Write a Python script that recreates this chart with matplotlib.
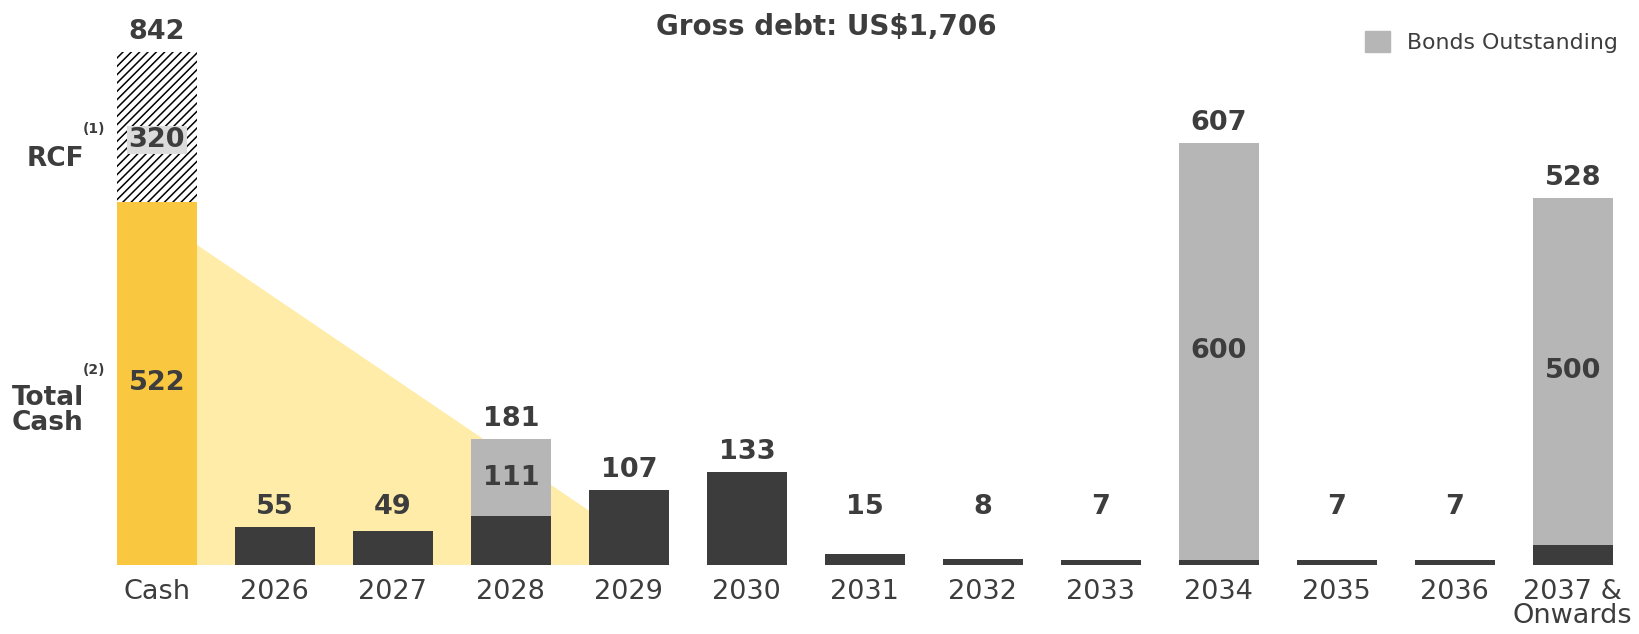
import matplotlib
matplotlib.use("Agg")
import matplotlib.pyplot as plt
from matplotlib.patches import Patch

plt.rcParams['font.family'] = ['DejaVu Sans']
plt.rcParams['hatch.linewidth'] = 1.1

# maturity profile (US$ m)
categories = ['Cash', '2026', '2027', '2028', '2029', '2030', '2031', '2032',
              '2033', '2034', '2035', '2036', '2037 &\nOnwards']
other_debt = [0, 55, 49, 70, 107, 133, 15, 8, 7, 7, 7, 7, 28]
bonds = [0, 0, 0, 111, 0, 0, 0, 0, 0, 600, 0, 0, 500]
total_cash = 522
rcf = 320
gross_debt_text = 'Gross debt: US$1,706'

DARK = '#3c3c3c'
GREY = '#b6b6b6'
YELLOW = '#f9c740'
LIGHT_YELLOW = '#feeca8'
TXT = '#3d3d3d'

W = 0.68            # bar width
YTOP = 812          # top of the value axis
RCF_SCALE = 0.672   # RCF segment drawn compressed (not to scale)
WEDGE_H = 460       # height where the liquidity wedge leaves the cash bar
FS = 19.5

fig = plt.figure(figsize=(16.4, 6.34), dpi=100)
ax = fig.add_axes([0, 0.109, 1, 0.891])
ax.set_xlim(-1.33, 12.57)
ax.set_ylim(0, YTOP)

x = list(range(len(categories)))

# liquidity wedge behind the early maturities
ax.fill([W / 2, W / 2, 4 + W / 2], [0, WEDGE_H, 0], color=LIGHT_YELLOW, lw=0, zorder=1)

# cash bar
ax.bar(0, total_cash, width=W, color=YELLOW, lw=0, zorder=2)
ax.text(0, total_cash / 2, str(total_cash), ha='center', va='center',
        fontsize=FS, fontweight='bold', color=TXT, zorder=5)

# debt maturities
ax.bar(x[1:], other_debt[1:], width=W, color=DARK, lw=0, zorder=2)
ax.bar(x[1:], bonds[1:], bottom=other_debt[1:], width=W, color=GREY, lw=0, zorder=2)

for i in x[1:]:
    tot = other_debt[i] + bonds[i]
    ax.text(i, max(tot, 55) + 10, str(tot), ha='center', va='bottom',
            fontsize=FS, fontweight='bold', color=TXT, zorder=5)
    if bonds[i]:
        ax.text(i, other_debt[i] + bonds[i] / 2, str(bonds[i]), ha='center', va='center',
                fontsize=FS, fontweight='bold', color=TXT, zorder=5)

# RCF on a compressed scale stacked on the cash bar
ax2 = ax.twinx()
lo = total_cash - total_cash / RCF_SCALE
ax2.set_ylim(lo, lo + YTOP / RCF_SCALE)
ax2.bar(0, rcf, bottom=total_cash, width=W, facecolor='white', edgecolor='black',
        hatch='////', lw=0, zorder=2)
ax2.text(0, total_cash + rcf / 2 - 28, str(rcf), ha='center', va='center',
         fontsize=FS, fontweight='bold', color=TXT, zorder=5,
         bbox=dict(boxstyle='square,pad=0.05', fc='#dcdcdc', ec='none'))
ax2.text(0, total_cash + rcf + 16, str(total_cash + rcf), ha='center', va='bottom',
         fontsize=FS, fontweight='bold', color=TXT)
ax2.axis('off')

# side labels
ax.text(-0.62, 583, 'RCF', ha='right', va='center', fontsize=19,
        fontweight='bold', color=TXT)
ax.text(-0.53, 626, '(1)', ha='center', va='center', fontsize=10,
        fontweight='bold', color=TXT)
ax.text(-0.62, 222, 'Total\nCash', ha='right', va='center', fontsize=19,
        fontweight='bold', color=TXT, linespacing=0.95)
ax.text(-0.53, 280, '(2)', ha='center', va='center', fontsize=10,
        fontweight='bold', color=TXT)

ax.set_xticks(x)
ax.set_xticklabels(categories, fontsize=FS, color=TXT, linespacing=0.9)
ax.tick_params(axis='x', length=0, pad=10)
ax.set_yticks([])
for s in ax.spines.values():
    s.set_visible(False)

fig.text(826 / 1640, 1 - 27 / 634, gross_debt_text, ha='center', va='center',
         fontsize=20, fontweight='bold', color=TXT)

fig.legend(handles=[Patch(color=GREY, label='Bonds Outstanding')],
           loc='upper right', bbox_to_anchor=(0.998, 0.98), frameon=False,
           fontsize=15.8, handlelength=1.1, handleheight=1.1, labelcolor=TXT,
           borderaxespad=0.45, handletextpad=0.8)

fig.savefig('out.png', dpi=100)
